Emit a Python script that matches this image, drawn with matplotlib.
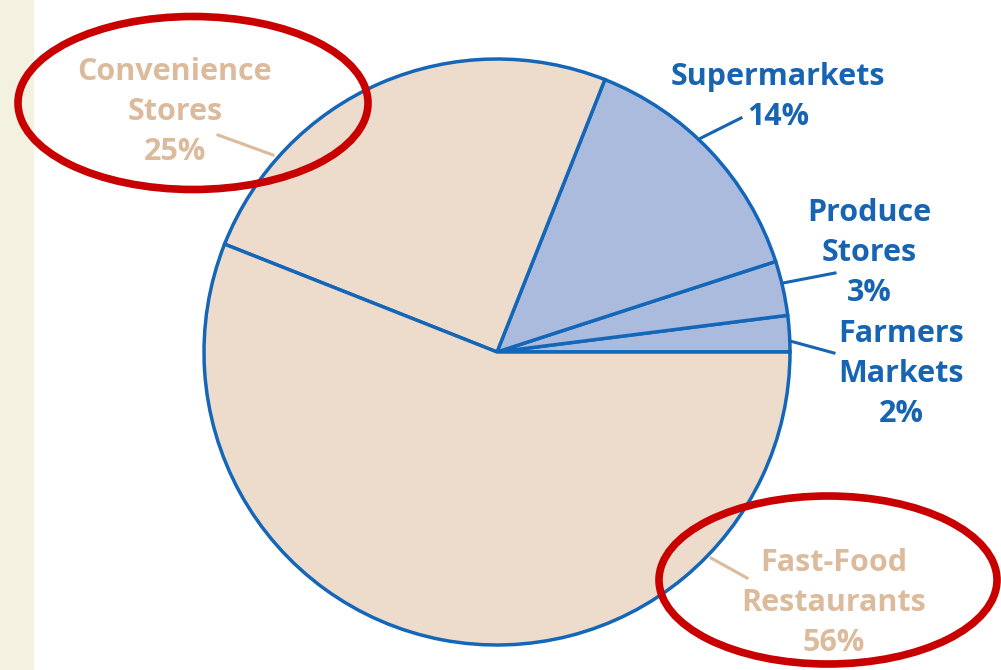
import matplotlib
matplotlib.use("Agg")
import matplotlib.pyplot as plt
from matplotlib.patches import Ellipse, Rectangle

# Where people buy food (share of purchases)
categories = ["Farmers\nMarkets", "Produce\nStores", "Supermarkets", "Convenience\nStores", "Fast-Food\nRestaurants"]
shares = [2, 3, 14, 25, 56]
fills = ["#aabbde", "#aabbde", "#aabbde", "#eddccc", "#eddccc"]
text_colors = ["#1764b3", "#1764b3", "#1764b3", "#dcbb9c", "#dcbb9c"]

edge_blue = "#1466b8"
W, H = 1001, 670

fig = plt.figure(figsize=(W / 100, H / 100), dpi=100)
ax = fig.add_axes([0, 0, 1, 1])

# beige strip on the left
ax.add_patch(Rectangle((0, 0), 33, H, color="#f3f1df", zorder=0))

cx, cy, r = 497, H - 352, 293
ax.pie(shares, colors=fills, startangle=0, counterclock=True,
       center=(cx, cy), radius=r, frame=True,
       wedgeprops=dict(edgecolor=edge_blue, linewidth=2.5))
ax.set_xlim(0, W)
ax.set_ylim(0, H)
ax.set_aspect("equal")
ax.axis("off")

# label positions (text centre) and leader lines, in pixel coords from top
label_pos = [(901, 374), (869, 253), (778, 97), (175, 112), (834, 603)]
leaders = [((790, 341), (834, 353)),
           ((783, 283), (835, 273)),
           ((701, 138), (741, 118)),
           ((273, 155), (218, 135)),
           ((711, 558), (747, 578))]

for cat, s, col, (lx, ly), (p0, p1) in zip(categories, shares, text_colors, label_pos, leaders):
    ax.text(lx, H - ly, f"{cat}\n{s}%", ha="center", va="center", color=col,
            fontsize=22, fontweight="bold", family="Open Sans", linespacing=1.45)
    ax.plot([p0[0], p1[0]], [H - p0[1], H - p1[1]], color=col, linewidth=2.2)

# red highlight ellipses
ax.add_patch(Ellipse((193, H - 103), 350, 173, fill=False, edgecolor="#c80000", linewidth=5.5, zorder=5))
ax.add_patch(Ellipse((828, H - 580), 338, 168, fill=False, edgecolor="#c80000", linewidth=5.5, zorder=5))

fig.savefig("out.png", dpi=100)
